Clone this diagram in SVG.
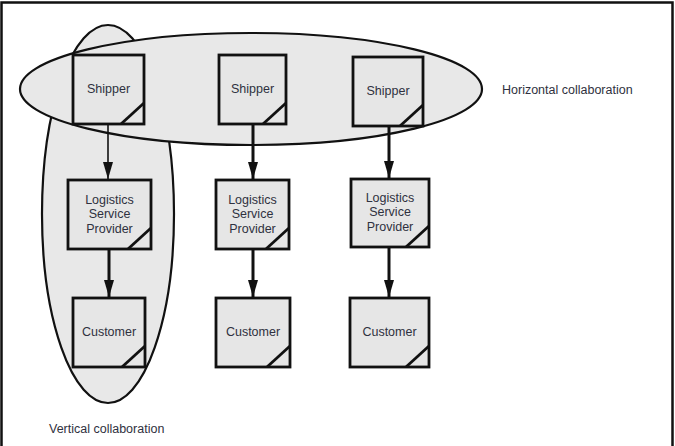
<svg xmlns="http://www.w3.org/2000/svg" width="675" height="446" viewBox="0 0 675 446">
<style>
.box{fill:#e6e6e6;stroke:#111;stroke-width:2.8}
.diag{stroke:#111;stroke-width:2.8;fill:none}
.ell{fill:#e8e8e8;stroke:#111;stroke-width:2.2}
.lbl{font-family:"Liberation Sans",Arial,sans-serif;font-size:12.5px;fill:#2f3140;text-anchor:middle}
.cap{font-family:"Liberation Sans",Arial,sans-serif;font-size:12.5px;fill:#2f3140}
.conn{stroke:#111;fill:none}
</style>
<defs>
<marker id="ah" markerUnits="userSpaceOnUse" markerWidth="18" markerHeight="12" refX="17" refY="6" orient="auto" viewBox="0 0 18 12">
<path d="M0,1 L17,6 L0,11 Z" fill="#111"/>
</marker>
</defs>
<rect x="1.5" y="2.5" width="671" height="460" fill="#fff" stroke="#111" stroke-width="2.5"/>
<g id="vertical-collaboration">
<ellipse class="ell" cx="108" cy="214" rx="66" ry="189"/>
<text class="cap" x="49" y="433">Vertical collaboration</text>
</g>
<g id="horizontal-collaboration">
<ellipse class="ell" cx="251" cy="89" rx="231" ry="56"/>
<text class="cap" x="502" y="94">Horizontal collaboration</text>
</g>
<g id="connectors">
<line class="conn" x1="108" y1="124" x2="108" y2="179" stroke-width="1.6" marker-end="url(#ah)"/>
<line class="conn" x1="253" y1="124" x2="253" y2="179" stroke-width="3" marker-end="url(#ah)"/>
<line class="conn" x1="389" y1="126" x2="389" y2="178" stroke-width="3" marker-end="url(#ah)"/>
<line class="conn" x1="109" y1="249" x2="109" y2="297" stroke-width="3" marker-end="url(#ah)"/>
<line class="conn" x1="253" y1="249" x2="253" y2="297" stroke-width="3" marker-end="url(#ah)"/>
<line class="conn" x1="389" y1="247" x2="389" y2="297" stroke-width="3" marker-end="url(#ah)"/>
</g>
<g id="shipper1">
<rect class="box" x="73" y="55" width="71" height="69"/>
<path class="diag" d="M121,124 L144,103"/>
<text class="lbl" x="108.5" y="93">Shipper</text>
</g>
<g id="shipper2">
<rect class="box" x="219" y="55" width="67" height="69"/>
<path class="diag" d="M263,124 L286,103"/>
<text class="lbl" x="252.5" y="93">Shipper</text>
</g>
<g id="shipper3">
<rect class="box" x="353" y="57" width="70" height="69"/>
<path class="diag" d="M400,126 L423,105"/>
<text class="lbl" x="388" y="95">Shipper</text>
</g>
<g id="lsp1">
<rect class="box" x="68" y="180" width="83" height="69"/>
<path class="diag" d="M128,249 L151,228"/>
<text class="lbl" x="109.5" y="204">Logistics</text>
<text class="lbl" x="109.5" y="218">Service</text>
<text class="lbl" x="109.5" y="233">Provider</text>
</g>
<g id="lsp2">
<rect class="box" x="216" y="180" width="73" height="69"/>
<path class="diag" d="M266,249 L289,228"/>
<text class="lbl" x="252.5" y="204">Logistics</text>
<text class="lbl" x="252.5" y="218">Service</text>
<text class="lbl" x="252.5" y="233">Provider</text>
</g>
<g id="lsp3">
<rect class="box" x="351" y="179" width="78" height="68"/>
<path class="diag" d="M406,247 L429,226"/>
<text class="lbl" x="390" y="202">Logistics</text>
<text class="lbl" x="390" y="216">Service</text>
<text class="lbl" x="390" y="231">Provider</text>
</g>
<g id="customer1">
<rect class="box" x="73" y="298" width="72" height="69"/>
<path class="diag" d="M122,367 L145,346"/>
<text class="lbl" x="109" y="336">Customer</text>
</g>
<g id="customer2">
<rect class="box" x="216" y="298" width="74" height="69"/>
<path class="diag" d="M267,367 L290,346"/>
<text class="lbl" x="253" y="336">Customer</text>
</g>
<g id="customer3">
<rect class="box" x="350" y="298" width="79" height="69"/>
<path class="diag" d="M406,367 L429,346"/>
<text class="lbl" x="389.5" y="336">Customer</text>
</g>
</svg>
